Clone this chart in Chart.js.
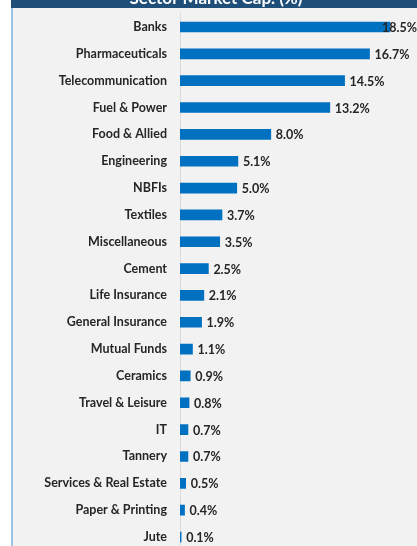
<!DOCTYPE html>
<html><head><meta charset="utf-8">
<script src="https://cdn.jsdelivr.net/npm/chart.js@4"></script>
<style>
html,body{margin:0;padding:0;background:#fff;overflow:hidden;width:417px;height:546px;}
#wrap{position:absolute;left:0;top:0;width:417px;height:552px;}
</style></head><body>
<div id="wrap"><canvas id="c" width="417" height="552"></canvas></div>
<script>
const title = "Sector Market Cap. (%)";
const categories = ["Banks","Pharmaceuticals","Telecommunication","Fuel & Power","Food & Allied","Engineering","NBFIs","Textiles","Miscellaneous","Cement","Life Insurance","General Insurance","Mutual Funds","Ceramics","Travel & Leisure","IT","Tannery","Services & Real Estate","Paper & Printing","Jute"];
const values = [18.5,16.7,14.5,13.2,8.0,5.1,5.0,3.7,3.5,2.5,2.1,1.9,1.1,0.9,0.8,0.7,0.7,0.5,0.4,0.1];
const valueLabels = values.map(v => v.toFixed(1) + "%");

const bgPlugin = {
  id:'bg',
  beforeDraw(chart){
    const ctx = chart.ctx;
    ctx.save();
    ctx.fillStyle = '#F2F2F2';
    ctx.fillRect(12, 8, 417, 560);
    ctx.fillStyle = '#9DC3E6';
    ctx.fillRect(11, 8, 2, 560);
    ctx.fillStyle = '#1F4E79';
    ctx.fillRect(11, 0, 417, 8);
    ctx.fillStyle = '#ffffff';
    ctx.font = 'bold 17px Lato';
    ctx.textAlign = 'center';
    ctx.textBaseline = 'alphabetic';
    ctx.fillText(title, 216, 4);
    ctx.restore();
  }
};
const labelPlugin = {
  id:'vlabels',
  afterDatasetsDraw(chart){
    const ctx = chart.ctx;
    const meta = chart.getDatasetMeta(0);
    ctx.save();
    ctx.font = 'bold 12.5px Lato';
    ctx.fillStyle = '#262626';
    ctx.textBaseline = 'middle';
    ctx.textAlign = 'left';
    meta.data.forEach((bar, i) => {
      const t = valueLabels[i];
      const w = ctx.measureText(t).width;
      let x = bar.x + 5;
      if (x + w > 417) x = 417 - w;
      ctx.fillText(t, x, bar.y + 1);
    });
    ctx.restore();
  }
};

new Chart(document.getElementById('c'), {
  type:'bar',
  data:{labels:categories, datasets:[{data:values, backgroundColor:'#0070C0', borderWidth:0, barThickness:10}]},
  options:{
    indexAxis:'y', responsive:false, animation:false, devicePixelRatio:1,
    layout:{padding:{top:13.6, bottom:1.6, right:10, left:0}},
    plugins:{legend:{display:false}, tooltip:{enabled:false}},
    scales:{
      x:{display:false, min:0, max:20},
      y:{
        grid:{display:false, drawTicks:false},
        border:{display:true, color:'#D9D9D9', width:1},
        ticks:{font:{family:'Lato', weight:'bold', size:12.5}, color:'#262626', padding:13, autoSkip:false},
        afterFit(s){ s.width = 180; s.paddingTop = 0; s.paddingBottom = 0; }
      }
    }
  },
  plugins:[bgPlugin, labelPlugin]
});
</script></body></html>
